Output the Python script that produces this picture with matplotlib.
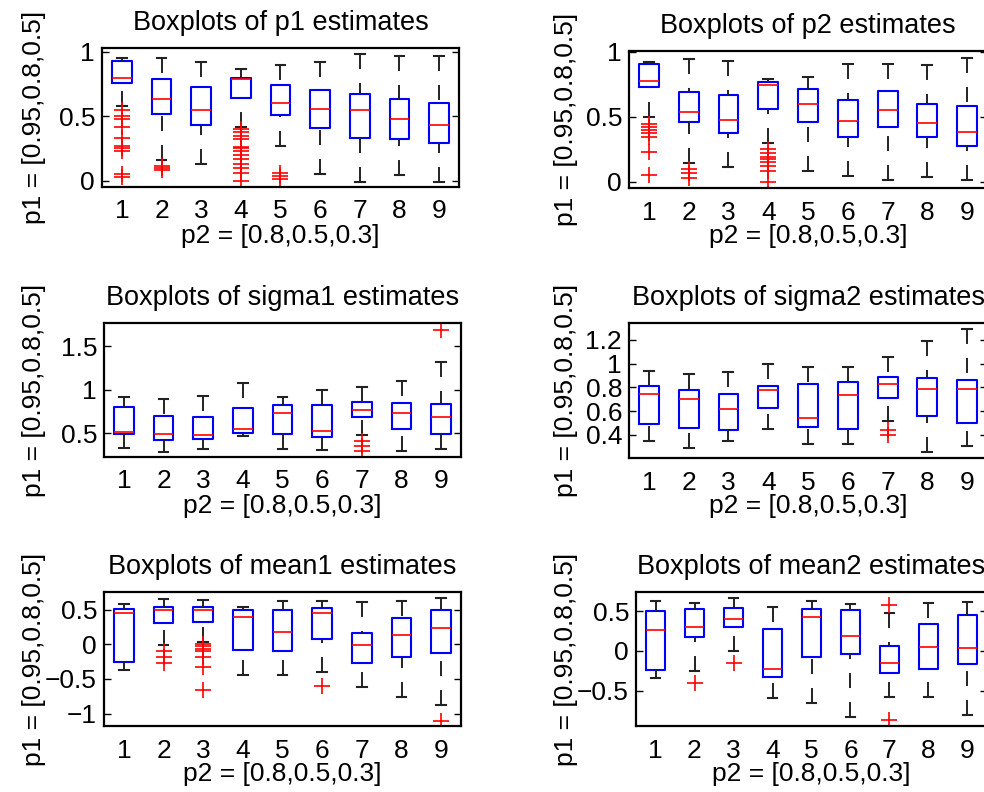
import matplotlib
matplotlib.use("Agg")
import matplotlib.pyplot as plt

plt.rcParams["font.family"] = ["Liberation Sans", "DejaVu Sans"]

groups = [1, 2, 3, 4, 5, 6, 7, 8, 9]
x_label = "p2 = [0.8,0.5,0.3]"
y_label = "p1 = [0.95,0.8,0.5]"

# p1 estimates: whisker low, q1, median, q3, whisker high, outliers
p1_lo = [0.58, 0.16, 0.13, 0.42, 0.27, 0.05, -0.01, 0.04, -0.01]
p1_q1 = [0.76, 0.52, 0.43, 0.64, 0.51, 0.41, 0.33, 0.32, 0.29]
p1_med = [0.80, 0.63, 0.545, 0.787, 0.60, 0.555, 0.548, 0.476, 0.432]
p1_q3 = [0.93, 0.79, 0.73, 0.80, 0.745, 0.70, 0.67, 0.63, 0.60]
p1_hi = [0.95, 0.95, 0.92, 0.87, 0.895, 0.92, 0.98, 0.97, 0.97]
p1_out = [
    [0.55, 0.50, 0.48, 0.42, 0.33, 0.27, 0.25, 0.23, 0.05, 0.03],
    [0.11, 0.10, 0.08],
    [],
    [0.40, 0.38, 0.345, 0.32, 0.26, 0.25, 0.23, 0.195, 0.165, 0.13, 0.10, 0.06, 0.0],
    [0.06, 0.036, 0.01],
    [], [], [], [],
]

# p2 estimates
p2_lo = [0.50, 0.145, 0.115, 0.30, 0.08, 0.04, 0.015, 0.035, 0.01]
p2_q1 = [0.73, 0.46, 0.37, 0.56, 0.46, 0.34, 0.42, 0.34, 0.27]
p2_med = [0.776, 0.538, 0.472, 0.745, 0.597, 0.469, 0.554, 0.449, 0.385]
p2_q3 = [0.906, 0.69, 0.67, 0.77, 0.714, 0.625, 0.70, 0.597, 0.58]
p2_hi = [0.923, 0.944, 0.931, 0.788, 0.806, 0.908, 0.908, 0.898, 0.954]
p2_out = [
    [0.44, 0.42, 0.395, 0.37, 0.344, 0.23, 0.05],
    [0.10, 0.064, 0.03],
    [],
    [0.25, 0.22, 0.19, 0.17, 0.15, 0.12, 0.08, 0.0],
    [], [], [], [], [],
]

# sigma1 estimates
s1_lo = [0.323, 0.277, 0.315, 0.46, 0.312, 0.308, 0.473, 0.296, 0.312]
s1_q1 = [0.485, 0.423, 0.427, 0.496, 0.485, 0.45, 0.685, 0.55, 0.488]
s1_med = [0.508, 0.485, 0.48, 0.546, 0.73, 0.527, 0.765, 0.73, 0.68]
s1_q3 = [0.80, 0.696, 0.68, 0.792, 0.819, 0.823, 0.854, 0.85, 0.835]
s1_hi = [0.915, 0.896, 0.927, 1.08, 0.912, 0.992, 1.035, 1.10, 1.323]
s1_out = [[], [], [], [], [], [], [0.404, 0.346, 0.292], [], [1.688]]

# sigma2 estimates
s2_lo = [0.351, 0.292, 0.351, 0.452, 0.326, 0.326, 0.517, 0.258, 0.306]
s2_q1 = [0.494, 0.455, 0.444, 0.626, 0.469, 0.447, 0.711, 0.562, 0.50]
s2_med = [0.744, 0.70, 0.618, 0.78, 0.545, 0.733, 0.826, 0.789, 0.784]
s2_q3 = [0.809, 0.775, 0.744, 0.809, 0.829, 0.848, 0.885, 0.876, 0.86]
s2_hi = [0.941, 0.91, 0.93, 0.997, 0.969, 0.969, 1.053, 1.19, 1.289]
s2_out = [[], [], [], [], [], [], [0.441, 0.399], [], []]

# mean1 estimates
m1_lo = [-0.372, -0.01, 0.03, -0.444, -0.444, -0.406, -0.618, -0.763, -0.879]
m1_q1 = [-0.256, 0.30, 0.324, -0.082, -0.097, 0.072, -0.275, -0.184, -0.13]
m1_med = [0.444, 0.498, 0.493, 0.396, 0.179, 0.444, -0.014, 0.13, 0.237]
m1_q3 = [0.502, 0.541, 0.531, 0.493, 0.498, 0.517, 0.164, 0.386, 0.488]
m1_hi = [0.575, 0.647, 0.643, 0.531, 0.628, 0.628, 0.609, 0.618, 0.662]
m1_out = [
    [],
    [-0.092, -0.179, -0.275],
    [0.0, -0.024, -0.063, -0.097, -0.188, -0.324, -0.662],
    [], [],
    [-0.599],
    [], [],
    [-1.10],
]

# mean2 estimates
m2_lo = [-0.339, -0.254, 0.0, -0.593, -0.653, -0.835, -0.585, -0.585, -0.814]
m2_q1 = [-0.242, 0.178, 0.297, -0.33, -0.072, -0.038, -0.275, -0.233, -0.161]
m2_med = [0.263, 0.309, 0.407, -0.229, 0.424, 0.186, -0.148, 0.055, 0.038]
m2_q3 = [0.504, 0.53, 0.542, 0.275, 0.525, 0.521, 0.064, 0.347, 0.458]
m2_hi = [0.627, 0.606, 0.665, 0.55, 0.636, 0.593, 0.483, 0.606, 0.623]
m2_out = [[], [-0.403], [-0.148], [], [], [], [0.58, -0.877], [], []]

panels = [
    ("p1", p1_lo, p1_q1, p1_med, p1_q3, p1_hi, p1_out, (-0.05, 1.03), [0, 0.5, 1], ["0", "0.5", "1"]),
    ("p2", p2_lo, p2_q1, p2_med, p2_q3, p2_hi, p2_out, (-0.05, 1.005), [0, 0.5, 1], ["0", "0.5", "1"]),
    ("sigma1", s1_lo, s1_q1, s1_med, s1_q3, s1_hi, s1_out, (0.223, 1.77), [0.5, 1, 1.5], ["0.5", "1", "1.5"]),
    ("sigma2", s2_lo, s2_q1, s2_med, s2_q3, s2_hi, s2_out, (0.205, 1.343),
     [0.4, 0.6, 0.8, 1.0, 1.2], ["0.4", "0.6", "0.8", "1", "1.2"]),
    ("mean1", m1_lo, m1_q1, m1_med, m1_q3, m1_hi, m1_out, (-1.179, 0.754),
     [-1, -0.5, 0, 0.5], ["\u22121", "\u22120.5", "0", "0.5"]),
    ("mean2", m2_lo, m2_q1, m2_med, m2_q3, m2_hi, m2_out, (-0.949, 0.746),
     [-0.5, 0, 0.5], ["\u22120.5", "0", "0.5"]),
]

# axes rectangles in pixels: left, top, right, bottom
W, H = 984, 792
rects = [
    (102, 48, 459, 187),
    (629, 51, 987, 188),
    (104, 323, 461, 457),
    (629, 323, 987, 458),
    (104, 592, 461, 726),
    (636, 592, 987, 726),
]

fig = plt.figure(figsize=(W / 100, H / 100), dpi=100)

for (name, lo, q1, med, q3, hi, out, ylim, yt, ytl), (l, t, r, b) in zip(panels, rects):
    ax = fig.add_axes([l / W, 1 - b / H, (r - l) / W, (b - t) / H])
    stats = []
    for i in range(len(groups)):
        stats.append(dict(med=med[i], q1=q1[i], q3=q3[i], whislo=lo[i], whishi=hi[i],
                          fliers=out[i], label=str(groups[i])))
    bp = ax.bxp(stats, positions=groups, widths=0.5, capwidths=0.25, showfliers=True,
                boxprops=dict(color="#0000ff", linewidth=1.5),
                medianprops=dict(color="#ff0000", linewidth=1.2),
                whiskerprops=dict(color="#222222", linewidth=1.4, linestyle=(0, (7.7, 7.2))),
                capprops=dict(color="#222222", linewidth=1.5),
                flierprops=dict(marker="+", markeredgecolor="#ff0000", markersize=12,
                                markeredgewidth=1.2, linestyle="none"))
    # dashes start at the cap, as in the original
    for w in bp["whiskers"]:
        xs, ys = w.get_data()
        w.set_data(xs[::-1], ys[::-1])
    ax.set_xlim(0.5, 9.5)
    ax.set_ylim(*ylim)
    ax.set_yticks(yt)
    ax.set_yticklabels(ytl)
    ax.set_xticks(groups)
    ax.set_xticklabels([str(g) for g in groups])
    ax.tick_params(axis="x", length=0, pad=9, labelsize=19)
    ax.tick_params(axis="y", direction="in", length=5, width=1, right=True,
                   labelsize=19, pad=5)
    for sp in ax.spines.values():
        sp.set_linewidth(1.6)
    ax.set_title(f"Boxplots of {name} estimates", fontsize=19.5, pad=13)
    ax.set_xlabel(x_label, fontsize=19, labelpad=0)
    ax.set_ylabel(y_label, fontsize=19)
    lab_x = 46 if l < 400 else 578
    ax.yaxis.set_label_coords((lab_x - l) / (r - l), 0.5)

fig.savefig("out.png", dpi=100)
